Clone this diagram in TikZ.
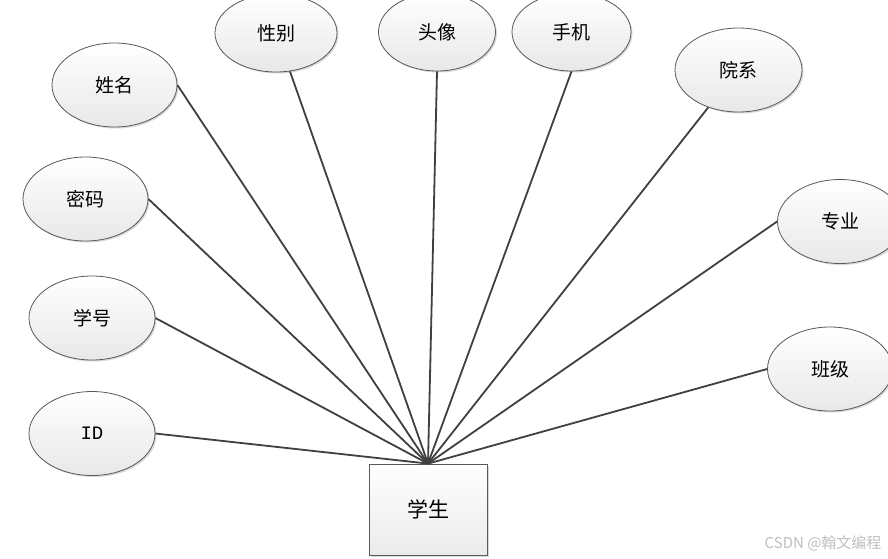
\documentclass[tikz,border=0pt]{standalone}
\usepackage{fontspec}
\setmainfont{Noto Sans CJK SC}
\newfontfamily\idfont{Liberation Mono}
\usetikzlibrary{shapes.geometric,shadows}
\tikzset{
  attr/.style={ellipse, draw=black!65, line width=0.8pt, inner sep=0pt,
    minimum width=125pt, minimum height=84pt,
    top color=white, bottom color=black!9,
    drop shadow={shadow xshift=1.5pt, shadow yshift=-1.5pt, opacity=0.25, fill=black!60},
    font=\fontsize{19}{21}\selectfont},
  ent/.style={rectangle, draw=black!65, line width=0.8pt, inner sep=0pt,
    minimum width=118pt, minimum height=91pt,
    top color=white, bottom color=black!8,
    drop shadow={shadow xshift=2pt, shadow yshift=-2pt, opacity=0.25, fill=black!60},
    font=\fontsize{21}{23}\selectfont},
  link/.style={draw=black!75, line width=1.8pt}
}
\begin{document}
\begin{tikzpicture}[x=1pt,y=-1pt]
\useasboundingbox (0,0) rectangle (888,558);
\fill[white] (0,0) rectangle (888,558);
\node[attr, minimum width=122pt, minimum height=78pt] (xb) at (276,33) {性别};
\node[attr, minimum width=117pt, minimum height=78pt] (tx) at (437,32) {头像};
\node[attr, minimum width=119pt, minimum height=78pt] (sj) at (571.5,32) {手机};
\node[attr] (xm) at (114.5,85) {姓名};
\node[attr, minimum width=127pt] (yx) at (738.5,70) {院系};
\node[attr] (mm) at (85.5,199) {密码};
\node[attr] (zy) at (840,221.5) {专业};
\node[attr, minimum width=126pt] (xh) at (92,318) {学号};
\node[attr, minimum width=126pt] (id) at (92,433.5) {\idfont ID};
\node[attr] (bj) at (830,369) {班级};
\node[ent] (st) at (428,509.5) {学生};
\draw[link] (xm.east) -- (st.north);
\draw[link] (xb.290) -- (st.north);
\draw[link] (tx.south) -- (st.north);
\draw[link] (sj.south) -- (st.north);
\draw[link] (yx.231) -- (st.north);
\draw[link] (mm.east) -- (st.north);
\draw[link] (zy.west) -- (st.north);
\draw[link] (xh.east) -- (st.north);
\draw[link] (bj.west) -- (st.north);
\draw[link] (id.east) -- (st.north);
\node[text=black!25, font=\fontsize{15}{17}\selectfont, anchor=east] (wm) at (885,543) {CSDN @翰文编程};
\end{tikzpicture}
\end{document}
